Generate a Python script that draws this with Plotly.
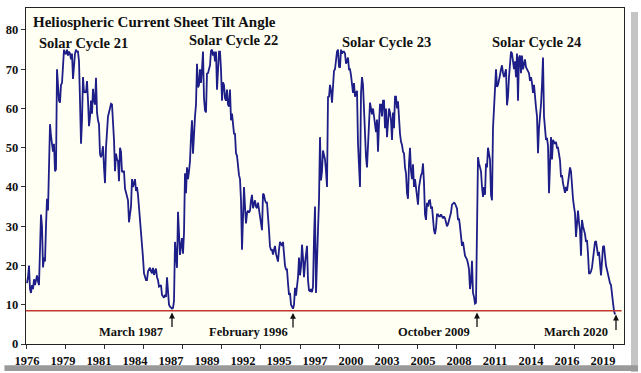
import plotly.graph_objects as go

# Heliospheric current sheet tilt angle, one value per Carrington rotation (from CR 1642, mid-1976)
first_rotation = 1642
tilt = [
    15.5, 17, 20, 14, 13, 15, 14, 16.5, 15, 17,
    17.5, 16, 15, 24, 33, 30, 19.5, 22, 21, 30,
    37, 34, 42, 56, 53, 51, 49, 51, 44, 44.5,
    70, 66, 62, 61.5, 66, 66.5, 72, 75, 74, 74,
    75, 73.5, 74.5, 74, 72.5, 74, 67.5, 72.5, 74, 75,
    74.5, 74.5, 72, 62, 51, 57, 68, 64, 64.5, 64,
    67, 62, 55.5, 57.7, 62, 58.7, 65, 62, 61, 67.8,
    59, 57, 56, 48.4, 47.6, 48.6, 50.4, 45, 41, 50,
    56, 58, 59, 60, 61.2, 61, 57, 52, 44, 48.5,
    47, 46.6, 41.5, 50, 49, 43.8, 44, 44, 39.6, 38.4,
    37, 36.6, 31, 34, 35, 42, 40, 41, 42, 39,
    40, 38, 35, 33, 29, 24.8, 22, 18, 17.2, 16.3,
    16.3, 18.5, 19, 19.4, 18.5, 18, 19.4, 17.6, 18.5, 19.2,
    17, 16.3, 14.6, 14.8, 15, 12.5, 12, 11.8, 12.5, 12,
    17, 11.8, 10, 9.5, 9.2, 9, 9.2, 11, 26, 22,
    19.4, 33.7, 28, 22.7, 25, 27, 23, 28.3, 43.5, 38.4,
    45, 42, 44, 46.6, 52.7, 57, 48.5, 55, 58, 61,
    71.4, 65.4, 66, 70, 66.5, 70, 74.5, 62.6, 59.5, 59,
    68.9, 69, 70, 71, 74.7, 75, 73.5, 74.5, 72, 74.5,
    64.8, 70, 74.5, 74.5, 70, 62, 66.7, 66, 62.6, 62,
    64.8, 61, 60.5, 64.8, 57, 58.7, 55, 53.6, 53.5, 48.6,
    48, 44.5, 43, 42, 36.6, 24, 33, 40, 35, 30.7,
    33.3, 34, 33.5, 34, 36.6, 38, 34.6, 36, 36.6, 35,
    34.6, 36, 34, 32, 30.5, 29, 38.3, 38, 36.6, 36,
    36, 33.3, 29, 24.8, 24, 24, 22.8, 24, 25, 23,
    22, 21, 24, 26, 25.5, 25, 26, 21.5, 20, 19,
    19, 15.5, 12.5, 13, 10, 9.5, 9, 10, 14.3, 12.3,
    14.6, 17, 22, 17.5, 19.6, 25.3, 22, 17, 20.6, 24,
    25, 16.3, 13.7, 13.5, 14, 13.2, 14.6, 27, 35, 13,
    24.8, 29, 36.6, 52.7, 41.7, 44, 49.3, 48, 47, 44,
    40, 62.9, 63, 66, 64.6, 61.5, 67, 69.6, 70, 73,
    74.5, 75, 70.6, 70.4, 75, 74, 74.5, 74.5, 74, 71.4,
    72.5, 73, 70, 70, 68.5, 66, 64, 66.5, 63, 64,
    64.5, 51, 45, 40, 63.8, 68, 66, 60.3, 52, 47.6,
    45, 52, 58, 61.5, 60, 58.5, 60, 58, 57, 54,
    57.2, 49, 56, 61, 61, 58, 62, 62, 55, 60,
    52.7, 58, 60, 59, 57, 52, 59, 55, 63, 63,
    60, 61.8, 56, 53.6, 51.5, 50.8, 49, 48.6, 45, 43.5,
    38.5, 37, 46, 50, 44, 42, 45.8, 40, 42, 40,
    38.5, 35.5, 40, 41.7, 43, 43.5, 46, 41, 33, 31.6,
    36, 35, 36.5, 36.6, 34.5, 35, 30.7, 29, 28, 29.5,
    33, 33, 32.5, 32.5, 33, 32.5, 32, 32.5, 32, 31,
    30, 30.5, 31.5, 32.5, 33.5, 35.5, 35.9, 36, 35.8, 35,
    34.5, 31.6, 32, 30, 28, 25, 26, 24, 22.5, 22,
    21.5, 20.5, 19, 14, 16, 21.2, 13, 12, 10.3, 10.5,
    31.6, 47.6, 46, 45, 44, 40, 37.5, 40, 38, 46,
    45, 50, 48, 47, 38, 36.6, 55, 63, 65, 70,
    65.5, 66, 67, 68.5, 70, 71, 69, 68, 69, 70,
    60.8, 63, 68, 72, 74.5, 74, 72, 70, 72, 68,
    74, 62, 73, 73.5, 69, 73.5, 70, 71, 72.5, 70.5,
    70, 69.5, 69, 67, 68, 66.5, 64, 66, 62, 60.3,
    58, 48.6, 55, 57.7, 61, 66, 73, 58, 54, 52,
    52.5, 50.5, 38.4, 45, 52.7, 47, 52, 51.5, 51, 51.5,
    50, 50, 48, 46.8, 42.5, 43, 41, 40, 38.5, 40,
    39, 41, 43, 45, 44, 39, 37, 35, 33.3, 27.3,
    30, 34, 31, 29, 22.5, 31.6, 30, 29, 28, 26,
    26.5, 23, 18, 18, 18.5, 19.5, 22, 24.5, 26, 26.2,
    23.5, 22.5, 23.5, 20, 17.5, 21, 24.8, 25, 22, 20,
    18.9, 17.5, 16.3, 15.5, 15, 12, 10.5, 8.5, 7.5,
]
rotations = [first_rotation + i for i in range(len(tilt))]

# x-axis labels (every 36 rotations)
label_rotations = [1642, 1678, 1714, 1750, 1786, 1822, 1858, 1894, 1930,
                   1966, 2002, 2038, 2074, 2110, 2146, 2182, 2218]
year_labels = ["1976", "1979", "1981", "1984", "1987", "1989", "1992", "1995", "1997",
               "2000", "2003", "2005", "2008", "2011", "2014", "2016", "2019"]

threshold = 8.5

cycle_labels = ["Solar Cycle 21", "Solar Cycle 22", "Solar Cycle 23", "Solar Cycle 24"]
minima_labels = ["March 1987", "February 1996", "October 2009", "March 2020"]
minima_rotations = [1787, 1908, 2092, 2231]

FONT = "Liberation Serif"
NAVY = "#1E1E88"

fig = go.Figure()
fig.add_trace(go.Scatter(
    x=rotations, y=tilt, mode="lines",
    line=dict(color=NAVY, width=1.8),
    showlegend=False, hoverinfo="x+y",
))

shapes = [
    dict(type="line", xref="paper", yref="y", x0=0, x1=0.996, y0=threshold, y1=threshold,
         line=dict(color="#C0392F", width=1.5), layer="above"),
    # drop shadow of the picture
    dict(type="rect", xref="paper", yref="paper", x0=1.0117, x1=1.0234, y0=-0.083, y1=0.988,
         fillcolor="#C4C4C4", line=dict(width=0), layer="below"),
    dict(type="rect", xref="paper", yref="paper", x0=-0.036, x1=1.0234, y0=-0.080, y1=-0.063,
         fillcolor="#9A9A9A", line=dict(width=0), layer="below"),
]

annotations = [
    dict(text="Heliospheric Current Sheet Tilt Angle", xref="paper", yref="paper",
         x=0.008, y=0.957, xanchor="left", yanchor="middle", showarrow=False,
         font=dict(family=FONT, size=15, color="#111111", weight="bold")),
]
cycle_pos = [(0.018, 0.897), (0.269, 0.905), (0.525, 0.900), (0.776, 0.899)]
for lab, (px, py) in zip(cycle_labels, cycle_pos):
    annotations.append(dict(text=lab, xref="paper", yref="paper", x=px, y=py,
                            xanchor="left", yanchor="middle", showarrow=False,
                            font=dict(family=FONT, size=14.5, color="#111111", weight="bold")))

head_y = [8.0, 7.9, 8.0, 7.5]
tails = [16, 16, 16, 17]
shifts = [-7, -3, -5, -6]
for lab, r, hy, t, s in zip(minima_labels, minima_rotations, head_y, tails, shifts):
    annotations.append(dict(text="", x=r, y=hy, xref="x", yref="y", showarrow=True,
                            ax=0, ay=t, arrowhead=2, arrowsize=0.9, arrowwidth=1.3,
                            arrowcolor="#111111"))
    annotations.append(dict(text=lab, x=r, y=3.1, xref="x", yref="y", showarrow=False,
                            xanchor="right", yanchor="middle", xshift=s,
                            font=dict(family=FONT, size=12.5, color="#111111", weight="bold")))

fig.update_layout(
    width=641, height=373,
    margin=dict(l=26, r=17, t=8, b=29, autoexpand=False),
    paper_bgcolor="white",
    plot_bgcolor="#FFFFF3",
    shapes=shapes,
    annotations=annotations,
    showlegend=False,
    xaxis=dict(
        range=[1641, 2239],
        tickmode="array", tickvals=label_rotations, ticktext=year_labels,
        ticks="outside", ticklen=5, tickcolor="rgba(0,0,0,0)",
        minor=dict(tick0=1641, dtick=39.15, ticks="outside", ticklen=4,
                   tickcolor="#333333", showgrid=False),
        tickfont=dict(family=FONT, size=12.5, color="#111111", weight="bold"),
        showline=True, linecolor="#222222", linewidth=1.3, mirror=True,
        showgrid=False, zeroline=False,
    ),
    yaxis=dict(
        range=[0, 85.6],
        tickmode="array", tickvals=[0, 10, 20, 30, 40, 50, 60, 70, 80],
        ticks="outside", ticklen=4, tickcolor="#333333",
        tickfont=dict(family=FONT, size=12.5, color="#111111", weight="bold"),
        showline=True, linecolor="#222222", linewidth=1.3, mirror=True,
        showgrid=False, zeroline=False,
    ),
)

fig.write_html("out.html", config={"displayModeBar": False},
               post_script="document.body.style.margin='0';")
